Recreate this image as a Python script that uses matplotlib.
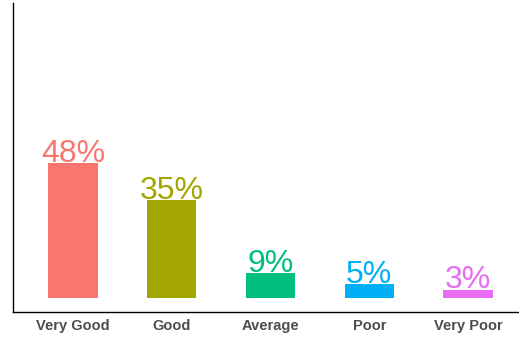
import matplotlib
matplotlib.use("Agg")
import matplotlib.pyplot as plt

categories = ["Very Good", "Good", "Average", "Poor", "Very Poor"]
values = [48, 35, 9, 5, 3]
labels = ["48%", "35%", "9%", "5%", "3%"]
colors = ["#F8766D", "#A3A500", "#00BF7D", "#00B0F6", "#E76BF3"]

W, H = 519, 341
fig = plt.figure(figsize=(W / 100, H / 100), dpi=100)
ax = fig.add_axes([13 / W, (H - 312) / H, 1 - 13 / W, 309 / H])

x = list(range(len(categories)))
ax.bar(x, values, width=0.5, color=colors)
for xi, v, lab, c in zip(x, values, labels, colors):
    ax.text(xi, v + 0.4, lab, ha="center", va="baseline", color=c,
            fontsize=23, family="Liberation Sans")

ax.set_xlim(-0.608, 4.516)
ax.set_ylim(-5, 105)
ax.set_xticks(x)
ax.set_xticklabels(categories, fontsize=10.5, fontweight="bold", color="#4D4D4D",
                   family="Liberation Sans")
ax.tick_params(axis="x", length=0, pad=5)
ax.set_yticks([])
for s in ["top", "right"]:
    ax.spines[s].set_visible(False)
for s in ["left", "bottom"]:
    ax.spines[s].set_linewidth(1.0)
    ax.spines[s].set_color("black")

fig.savefig("out.png", dpi=100)
